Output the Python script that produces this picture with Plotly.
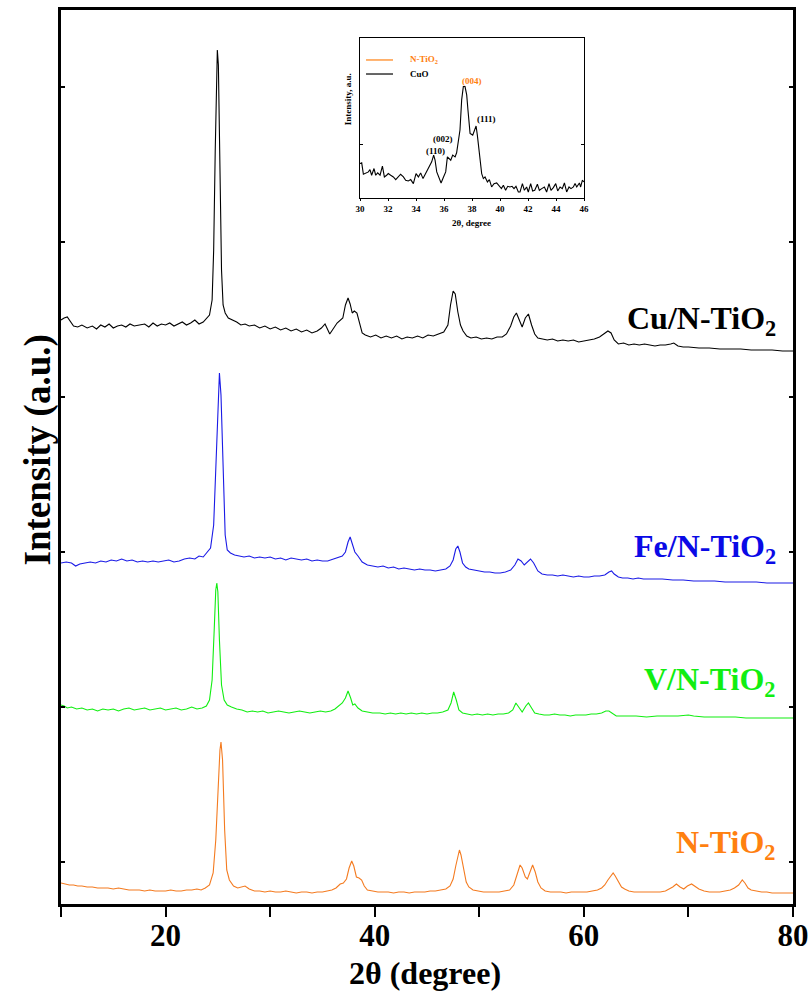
import plotly.graph_objects as go

# ---------------- main XRD patterns (offset-stacked intensity, a.u.) ----------------
cu_2theta = [10.0, 10.3, 10.6, 10.9, 11.2, 11.6, 12.0, 12.5, 13.0, 13.4, 13.8, 14.2, 14.6, 15.0, 15.4, 15.8,
             16.2, 16.6, 17.0, 17.5, 18.0, 18.4, 18.8, 19.2, 19.6, 20.0, 20.4, 20.8, 21.2, 21.6, 22.0, 22.4,
             22.8, 23.2, 23.6, 23.9, 24.2, 24.45, 24.6, 24.75, 24.9, 24.95, 25.05, 25.2, 25.35, 25.5, 25.7,
             26.0, 26.4, 26.8, 27.2, 27.6, 28.0, 28.5, 29.0, 29.5, 30.0, 30.5, 31.0, 31.5, 32.0, 32.5, 33.0,
             33.5, 34.0, 34.5, 34.9, 35.25, 35.7, 36.1, 36.4, 36.95, 37.2, 37.45, 37.65, 37.85, 38.05, 38.3,
             38.55, 38.8, 39.1, 39.6, 40.1, 40.6, 41.1, 41.6, 42.1, 42.6, 43.1, 43.6, 44.1, 44.6, 45.1, 45.6,
             46.1, 46.6, 47.0, 47.25, 47.5, 47.7, 47.95, 48.2, 48.45, 48.8, 49.2, 49.7, 50.2, 50.7, 51.2,
             51.7, 52.2, 52.6, 53.0, 53.3, 53.55, 53.8, 54.1, 54.4, 54.7, 55.0, 55.3, 55.6, 56.0, 56.5, 57.0,
             57.5, 58.0, 58.5, 59.0, 59.5, 60.0, 60.5, 61.0, 61.5, 61.9, 62.3, 62.6, 62.9, 63.3, 63.8, 64.3,
             64.8, 65.3, 65.8, 66.3, 66.8, 67.3, 67.8, 68.3, 68.6, 69.0, 69.5, 70.0, 71.0, 72.0, 73.0, 74.0,
             75.0, 76.0, 77.0, 78.0, 79.0, 80.0]
cu_intensity = [680, 682, 683, 679, 674, 673, 675, 672, 674, 671, 675, 673, 676, 672, 674, 675,
                673, 676, 674, 675, 676, 673, 677, 674, 676, 675, 677, 674, 676, 678, 675, 677,
                680, 676, 678, 681, 685, 700, 750, 850, 945, 950, 935, 830, 730, 695, 687,
                682, 680, 678, 675, 676, 674, 675, 672, 674, 671, 673, 670, 672, 669, 671, 668,
                670, 667, 669, 672, 676, 666, 673, 677, 682, 695, 702, 696, 687, 689, 687,
                676, 667, 665, 663, 665, 662, 664, 662, 664, 661, 663, 662, 664, 662, 665, 664,
                666, 668, 675, 695, 709, 706, 688, 675, 669, 664, 662, 663, 661, 662, 661,
                663, 663, 666, 674, 683, 687, 680, 673, 682, 686, 675, 666, 662, 661, 660, 661,
                659, 660, 659, 660, 658, 659, 660, 661, 663, 666, 669, 667, 660, 656, 657, 655,
                656, 655, 656, 655, 654, 655, 655, 656, 657, 654, 653, 653, 652, 652, 651, 651,
                651, 650, 650, 650, 649, 649]

fe_2theta = [10.0, 10.5, 11.0, 11.4, 11.8, 12.3, 12.8, 13.3, 13.8, 14.3, 14.8, 15.3, 15.8, 16.3, 16.8, 17.3,
             17.8, 18.3, 18.8, 19.3, 19.8, 20.3, 20.8, 21.3, 21.8, 22.3, 22.8, 23.2, 23.6, 24.0, 24.3, 24.6,
             24.8, 25.0, 25.15, 25.3, 25.5, 25.7, 25.9, 26.2, 26.6, 27.0, 27.5, 28.0, 28.5, 29.0, 29.5, 30.0,
             30.5, 31.0, 31.5, 32.0, 32.5, 33.0, 33.5, 34.0, 34.5, 35.0, 35.5, 36.0, 36.5, 36.9, 37.2, 37.45,
             37.65, 37.85, 38.1, 38.4, 38.8, 39.3, 39.8, 40.3, 40.8, 41.3, 41.8, 42.3, 42.8, 43.3, 43.8, 44.3,
             44.8, 45.3, 45.8, 46.3, 46.8, 47.2, 47.5, 47.75, 47.95, 48.15, 48.4, 48.7, 49.0, 49.5, 50.0, 50.5,
             51.0, 51.5, 52.0, 52.5, 53.0, 53.4, 53.7, 54.0, 54.3, 54.6, 54.9, 55.2, 55.6, 56.0, 56.5, 57.0,
             57.5, 58.0, 58.5, 59.0, 59.5, 60.0, 60.5, 61.0, 61.5, 62.0, 62.4, 62.65, 62.9, 63.3, 63.7, 64.2,
             64.7, 65.2, 65.7, 66.5, 67.5, 68.5, 69.5, 70.5, 71.5, 72.5, 73.5, 74.5, 75.5, 76.5, 77.5, 78.5,
             79.5, 80.0]
fe_intensity = [437, 438, 437, 434, 436, 437, 438, 437, 439, 438, 440, 439, 441, 439, 440, 438,
                439, 438, 439, 438, 439, 440, 438, 439, 441, 442, 441, 444, 443, 448, 452, 475,
                530, 600, 627, 605, 520, 465, 450, 447, 445, 444, 443, 444, 442, 443, 442, 443,
                441, 442, 440, 442, 441, 440, 441, 439, 440, 439, 439, 441, 443, 444, 448, 458,
                463, 457, 448, 444, 438, 435, 434, 433, 434, 432, 433, 431, 432, 431, 430, 431,
                430, 430, 429, 430, 431, 434, 440, 451, 454, 448, 437, 433, 431, 430, 429, 428,
                428, 427, 427, 428, 430, 435, 441, 439, 435, 438, 441, 437, 429, 426, 425, 425,
                424, 425, 424, 423, 424, 423, 423, 424, 424, 425, 428, 429, 426, 423, 422, 422,
                421, 422, 421, 421, 421, 420, 420, 419, 419, 419, 418, 418, 418, 418, 417, 417,
                417, 417]

v_2theta = [10.0, 10.3, 10.6, 11.0, 11.5, 12.0, 12.5, 13.0, 13.5, 14.0, 14.5, 15.0, 15.5, 16.0, 16.5, 17.0,
            17.5, 18.0, 18.5, 19.0, 19.5, 20.0, 20.5, 21.0, 21.5, 22.0, 22.5, 23.0, 23.5, 23.9, 24.2, 24.45,
            24.65, 24.8, 24.9, 25.0, 25.15, 25.35, 25.6, 25.9, 26.3, 26.8, 27.3, 27.8, 28.3, 28.8, 29.3, 29.8,
            30.3, 30.8, 31.3, 31.8, 32.3, 32.8, 33.3, 33.8, 34.3, 34.8, 35.3, 35.8, 36.2, 36.6, 36.9, 37.2,
            37.45, 37.7, 37.9, 38.1, 38.4, 38.8, 39.3, 39.8, 40.5, 41.0, 41.5, 42.0, 42.5, 43.0, 43.5, 44.0,
            44.5, 45.0, 45.5, 46.0, 46.5, 47.0, 47.3, 47.55, 47.8, 48.05, 48.4, 48.8, 49.3, 49.8, 50.3, 50.8,
            51.3, 51.8, 52.3, 52.8, 53.2, 53.5, 53.8, 54.1, 54.45, 54.7, 55.0, 55.3, 55.7, 56.2, 56.7, 57.2,
            57.7, 58.2, 58.7, 59.2, 59.7, 60.2, 60.7, 61.2, 61.7, 62.1, 62.4, 62.7, 63.1, 63.5, 64.0, 65.0,
            66.0, 67.0, 68.0, 69.0, 70.0, 70.5, 71.5, 72.5, 73.5, 74.5, 75.5, 76.5, 77.5, 78.5, 79.5, 80.0]
v_intensity = [295, 294, 292, 293, 291, 292, 290, 291, 289, 291, 290, 291, 289, 291, 292, 290,
               291, 292, 290, 291, 292, 290, 291, 292, 290, 291, 293, 291, 292, 294, 300, 320,
               370, 410, 417, 408, 360, 315, 300, 295, 293, 291, 290, 288, 289, 288, 289, 287,
               288, 289, 288, 287, 288, 289, 288, 287, 288, 289, 288, 289, 291, 294, 297, 302,
               309, 302, 295, 296, 292, 289, 288, 287, 287, 286, 287, 286, 287, 286, 287, 286,
               287, 286, 287, 287, 288, 290, 297, 308, 300, 290, 287, 286, 285, 286, 285, 286,
               285, 286, 286, 287, 290, 297, 293, 288, 294, 297, 292, 287, 286, 285, 285, 286,
               285, 285, 284, 285, 285, 285, 286, 286, 287, 289, 289, 287, 284, 284, 284, 284,
               283, 284, 284, 284, 285, 284, 283, 283, 283, 283, 282, 282, 282, 282, 282, 282]

n_2theta = [10.0, 10.4, 10.8, 11.2, 11.6, 12.0, 12.5, 13.0, 13.5, 14.0, 14.5, 15.0, 15.5, 16.0, 16.5, 17.0,
            17.5, 18.0, 18.5, 19.0, 19.5, 20.0, 20.5, 21.0, 21.5, 22.0, 22.5, 23.0, 23.4, 23.8, 24.2, 24.55,
            24.8, 25.0, 25.2, 25.3, 25.45, 25.65, 25.85, 26.1, 26.5, 26.9, 27.3, 27.6, 28.0, 28.5, 29.0, 29.5,
            30.0, 30.5, 31.0, 31.5, 32.0, 32.5, 33.0, 33.5, 34.0, 34.5, 35.0, 35.5, 35.9, 36.3, 36.7, 37.0,
            37.3, 37.55, 37.8, 38.0, 38.25, 38.5, 38.75, 39.0, 39.3, 39.8, 40.3, 40.8, 41.3, 41.8, 42.3, 42.8,
            43.3, 43.8, 44.3, 44.8, 45.3, 45.8, 46.3, 46.8, 47.2, 47.5, 47.75, 48.0, 48.1, 48.25, 48.5, 48.75,
            49.0, 49.4, 49.9, 50.4, 50.9, 51.4, 51.9, 52.4, 52.9, 53.3, 53.6, 53.9, 54.1, 54.4, 54.6, 54.85,
            55.1, 55.35, 55.6, 55.9, 56.3, 56.8, 57.3, 57.8, 58.3, 58.8, 59.3, 59.8, 60.3, 60.8, 61.3, 61.7,
            62.0, 62.3, 62.6, 62.8, 63.0, 63.3, 63.6, 63.9, 64.3, 64.8, 65.3, 65.8, 66.3, 66.8, 67.3, 67.8,
            68.2, 68.5, 68.85, 69.2, 69.55, 69.9, 70.3, 70.6, 71.0, 71.5, 72.0, 72.5, 73.0, 73.5, 74.0, 74.4,
            74.8, 75.15, 75.4, 75.7, 76.0, 76.5, 77.0, 77.5, 78.0, 78.5, 79.0, 79.5, 80.0]
n_intensity = [117, 116, 115, 115, 114, 114, 113, 113, 112, 112, 112, 111, 112, 111, 110, 110,
               110, 109, 110, 109, 109, 109, 110, 109, 109, 110, 110, 111, 110, 112, 115, 127,
               160, 210, 250, 258, 240, 170, 130, 120, 114, 112, 113, 114, 111, 109, 109, 108,
               109, 108, 108, 109, 108, 107, 108, 108, 107, 108, 108, 109, 110, 112, 116, 117,
               121, 132, 139, 134, 123, 122, 120, 114, 110, 109, 108, 108, 108, 107, 108, 108,
               107, 108, 108, 108, 109, 109, 110, 111, 114, 121, 134, 148, 150, 145, 130, 118,
               113, 110, 109, 108, 108, 108, 108, 109, 110, 115, 124, 135, 132, 123, 121, 129,
               135, 128, 118, 112, 109, 108, 108, 108, 107, 108, 108, 108, 108, 109, 110, 112,
               115, 120, 125, 127, 124, 118, 113, 111, 109, 108, 108, 108, 108, 108, 108, 109,
               111, 113, 116, 113, 111, 114, 116, 114, 111, 109, 108, 108, 108, 109, 110, 112,
               115, 120, 117, 112, 110, 109, 108, 108, 107, 107, 107, 107, 107]

series_names = ["Cu/N-TiO<sub>2</sub>", "Fe/N-TiO<sub>2</sub>", "V/N-TiO<sub>2</sub>", "N-TiO<sub>2</sub>"]
series_colors = ["#000000", "#1a1ae6", "#11ee11", "#f47b20"]
label_colors = ["#000000", "#0a0ae6", "#11ee11", "#ff8010"]
label_levels = [680, 452, 319, 156]   # vertical position of each pattern's name

# ---------------- inset: CuO region of the Cu/N-TiO2 pattern ----------------
inset_2theta = [30.00, 30.12, 30.24, 30.43, 30.60, 30.71, 30.83, 31.00, 31.12, 31.26, 31.43, 31.60, 31.74,
                31.90, 32.02, 32.19, 32.38, 32.55, 32.74, 32.90, 33.10, 33.26, 33.45, 33.62, 33.81, 34.00,
                34.17, 34.33, 34.50, 34.67, 34.83, 35.00, 35.12, 35.26, 35.36, 35.48, 35.62, 35.79, 35.95,
                36.12, 36.24, 36.36, 36.48, 36.62, 36.79, 36.90, 37.02, 37.14, 37.26, 37.38, 37.50, 37.62,
                37.71, 37.86, 38.05, 38.17, 38.29, 38.38, 38.52, 38.69, 38.81, 38.93, 39.10, 39.24, 39.40,
                39.57, 39.76, 39.93, 40.10, 40.24, 40.40, 40.55, 40.71, 40.86, 41.00, 41.14, 41.31, 41.43,
                41.60, 41.74, 41.90, 42.02, 42.19, 42.33, 42.48, 42.67, 42.81, 42.98, 43.17, 43.33, 43.50,
                43.64, 43.81, 43.98, 44.12, 44.29, 44.45, 44.60, 44.76, 44.93, 45.07, 45.24, 45.36, 45.48,
                45.67, 45.76, 45.88, 46.00]
inset_intensity = [103, 105, 71, 75, 78, 85, 68, 88, 68, 75, 68, 95, 63,
                   68, 73, 68, 63, 55, 65, 71, 63, 53, 51, 55, 43, 73,
                   63, 75, 58, 71, 83, 96, 108, 128, 113, 78, 63, 45, 61,
                   78, 123, 118, 113, 128, 123, 135, 163, 203, 293, 333, 333, 308,
                   263, 193, 188, 203, 215, 188, 133, 73, 58, 63, 48, 55, 33,
                   43, 45, 35, 28, 38, 23, 35, 33, 35, 28, 35, 18, 18,
                   43, 23, 33, 18, 43, 21, 23, 41, 23, 28, 33, 18, 43,
                   23, 31, 43, 21, 33, 28, 45, 18, 33, 28, 33, 43, 33,
                   45, 33, 53, 48]
inset_peak_labels = ["(110)", "(002)", "(004)", "(111)"]
inset_peak_2theta = [35.36, 35.95, 37.98, 39.05]
inset_peak_level = [140, 176, 350, 236]
inset_peak_colors = ["#000000", "#000000", "#ff8010", "#000000"]

inset_legend_names = ["N-TiO<sub>2</sub>", "CuO"]
inset_legend_colors = ["#ff8010", "#000000"]

inset_ticks = [30, 32, 34, 36, 38, 40, 42, 44, 46]

SERIF = "Liberation Serif"

fig = go.Figure()

patterns = [(cu_2theta, cu_intensity), (fe_2theta, fe_intensity),
            (v_2theta, v_intensity), (n_2theta, n_intensity)]
for (xs, ys), name, col in zip(patterns, series_names, series_colors):
    fig.add_trace(go.Scatter(x=xs, y=ys, mode="lines", name=name, showlegend=False,
                             line=dict(color=col, width=1.1)))

for name, col, lvl in zip(series_names, label_colors, label_levels):
    fig.add_annotation(x=78.6, y=lvl, xref="x", yref="y", text=name, showarrow=False,
                       xanchor="right", yanchor="middle",
                       font=dict(family=SERIF, size=32, color=col, weight="bold"))

# inset: CuO pattern
fig.add_trace(go.Scatter(x=inset_2theta, y=inset_intensity, mode="lines", xaxis="x2", yaxis="y2",
                         name="CuO", showlegend=False, line=dict(color="#000000", width=1.1)))

for lab, xx, yy, col in zip(inset_peak_labels, inset_peak_2theta, inset_peak_level, inset_peak_colors):
    fig.add_annotation(x=xx, y=yy, xref="x2", yref="y2", text=lab, showarrow=False,
                       xanchor="center", yanchor="middle",
                       font=dict(family=SERIF, size=9, color=col, weight="bold"))

# inset key: short line sample plus coloured name for each entry
key_rows = [0.9441, 0.9284]
for name, col, ky in zip(inset_legend_names, inset_legend_colors, key_rows):
    fig.add_shape(type="line", xref="paper", yref="paper", x0=0.4167, x1=0.4536, y0=ky, y1=ky,
                  line=dict(color=col, width=1.2))
    fig.add_annotation(x=0.474, y=ky, xref="paper", yref="paper", text=name, showarrow=False,
                       xanchor="left", yanchor="middle",
                       font=dict(family=SERIF, size=9, color=col, weight="bold"))

# axis titles
fig.add_annotation(x=-0.032, y=0.508, xref="paper", yref="paper", text="Intensity (a.u.)",
                   textangle=-90, showarrow=False, xanchor="center", yanchor="middle",
                   font=dict(family=SERIF, size=37, color="black", weight="bold"))
fig.add_annotation(x=0.497, y=-0.077, xref="paper", yref="paper", text="2θ (degree)",
                   showarrow=False, xanchor="center", yanchor="middle",
                   font=dict(family=SERIF, size=32, color="black", weight="bold"))
fig.add_annotation(x=0.561, y=0.762, xref="paper", yref="paper", text="2θ, degree",
                   showarrow=False, xanchor="center", yanchor="middle",
                   font=dict(family=SERIF, size=9, color="black", weight="bold"))
fig.add_annotation(x=0.392, y=0.900, xref="paper", yref="paper", text="Intensity, a.u.",
                   textangle=-90, showarrow=False, xanchor="center", yanchor="middle",
                   font=dict(family=SERIF, size=9, color="black", weight="bold"))

fig.update_layout(
    width=812, height=996,
    margin=dict(l=61, r=19, t=10, b=92, autoexpand=False),
    paper_bgcolor="white", plot_bgcolor="white",
    showlegend=False,
    xaxis=dict(range=[10, 80], tick0=0, dtick=20, automargin=False,
               ticks="outside", ticklen=10, tickwidth=2, tickcolor="black",
               minor=dict(tick0=0, dtick=10, ticks="outside", ticklen=10, tickwidth=2,
                          tickcolor="black", showgrid=False),
               ticklabelstandoff=-8,
               showline=True, linewidth=2.5, linecolor="black", mirror=True,
               showgrid=False, zeroline=False,
               tickfont=dict(family=SERIF, size=31, color="black", weight="bold")),
    yaxis=dict(range=[96, 990], tickvals=[138, 293, 448, 603, 758, 913], showticklabels=False,
               automargin=False,
               ticks="inside", ticklen=4, tickwidth=1.5, tickcolor="black",
               showline=True, linewidth=2.5, linecolor="black", mirror="ticks",
               showgrid=False, zeroline=False),
    xaxis2=dict(domain=[0.4085, 0.7145], anchor="y2", range=[30, 46], tickvals=inset_ticks,
                automargin=False,
                ticks="outside", ticklen=2, tickwidth=1, tickcolor="black",
                showline=True, linewidth=1.2, linecolor="black", mirror=True,
                showgrid=False, zeroline=False,
                tickfont=dict(family=SERIF, size=9, color="black", weight="bold")),
    yaxis2=dict(domain=[0.7897, 0.9687], anchor="x2", range=[0, 478], tickvals=[161],
                automargin=False,
                showticklabels=False, ticks="inside", ticklen=3, tickwidth=1, tickcolor="black",
                showline=True, linewidth=1.2, linecolor="black", mirror="ticks",
                showgrid=False, zeroline=False),
)

fig.write_html("out.html")
